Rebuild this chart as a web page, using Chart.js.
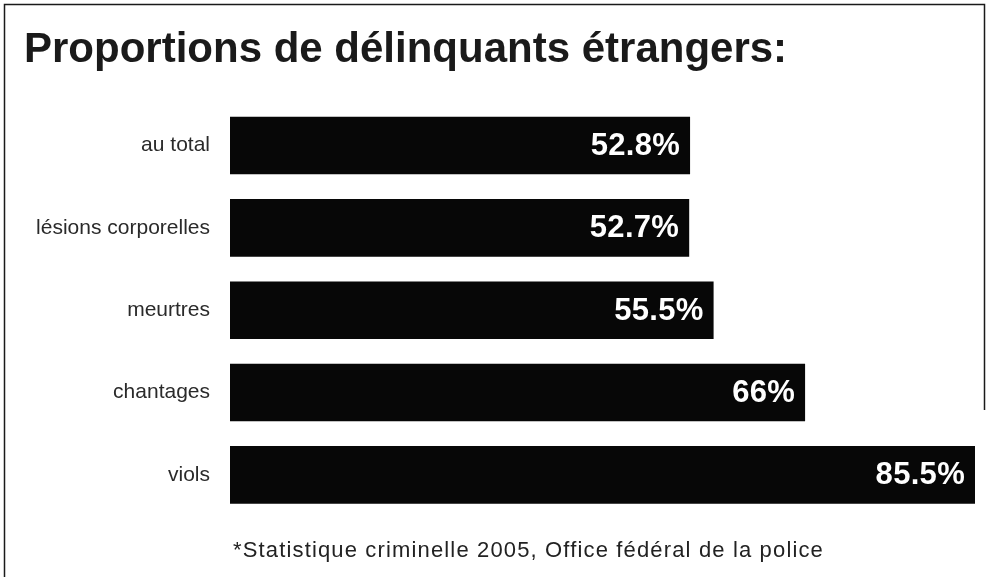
<!DOCTYPE html>
<html lang="fr">
<head>
    <meta charset="UTF-8">
    <title>Proportions de délinquants étrangers</title>
    <script src="https://cdn.jsdelivr.net/npm/chart.js@4.4.0/dist/chart.umd.min.js"></script>
    <style>
        html, body { margin: 0; padding: 0; background: #fff; }
        #wrap { position: relative; width: 988px; height: 577px; }
    </style>
</head>
<body>
<div id="wrap"><canvas id="myChart"></canvas></div>
<script>
    // values
    const categories = ["au total", "lésions corporelles", "meurtres", "chantages", "viols"];
    const shares = [52.8, 52.7, 55.5, 66, 85.5];
    const shareLabels = ["52.8%", "52.7%", "55.5%", "66%", "85.5%"];
    const titleText = "Proportions de délinquants étrangers:";
    const noteText = "*Statistique criminelle 2005, Office fédéral de la police";

    const fontFamily = '"Liberation Sans", Arial, Helvetica, sans-serif';

    // white percentages inside the end of each bar
    const valueLabels = {
        id: 'valueLabels',
        afterDatasetsDraw(chart) {
            const ctx = chart.ctx;
            const meta = chart.getDatasetMeta(0);
            ctx.save();
            ctx.fillStyle = '#ffffff';
            ctx.font = 'bold 31px ' + fontFamily;
            ctx.letterSpacing = '0.3px';
            ctx.textAlign = 'right';
            ctx.textBaseline = 'middle';
            meta.data.forEach((bar, i) => {
                ctx.fillText(shareLabels[i], bar.x - 10, bar.y + 1);
            });
            ctx.restore();
        }
    };

    // footnote + the scanned frame
    const extras = {
        id: 'extras',
        afterDraw(chart) {
            const ctx = chart.ctx;
            const area = chart.chartArea;
            ctx.save();
            ctx.fillStyle = '#222';
            ctx.font = '22px ' + fontFamily;
            ctx.letterSpacing = '1.15px';
            ctx.textAlign = 'left';
            ctx.textBaseline = 'alphabetic';
            ctx.fillText(noteText, area.left + 3, 557);

            ctx.strokeStyle = '#1a1a1a';
            ctx.lineWidth = 1.5;
            ctx.beginPath();
            ctx.moveTo(4.5, chart.height);
            ctx.lineTo(4.5, 4.5);
            ctx.lineTo(984.5, 4.5);
            ctx.lineTo(984.5, 410);
            ctx.stroke();
            ctx.restore();
        }
    };

    const ctx = document.getElementById('myChart').getContext('2d');
    const myChart = new Chart(ctx, {
        type: 'bar',
        data: {
            labels: categories,
            datasets: [{
                data: shares,
                backgroundColor: '#070707',
                borderWidth: 0,
                categoryPercentage: 0.7,
                barPercentage: 1.0
            }]
        },
        options: {
            indexAxis: 'y',
            responsive: true,
            maintainAspectRatio: false,
            animation: false,
            layout: {
                padding: { left: 24, right: 13, top: 0, bottom: 61 }
            },
            plugins: {
                legend: { display: false },
                tooltip: { enabled: false },
                title: {
                    display: true,
                    text: titleText,
                    align: 'start',
                    color: '#1a1a1a',
                    font: { family: fontFamily, size: 42, weight: 'bold' },
                    padding: { top: 25, bottom: 29 }
                }
            },
            scales: {
                x: {
                    display: false,
                    min: 0,
                    max: 85.5
                },
                y: {
                    grid: { display: false, drawTicks: false },
                    border: { display: false },
                    ticks: {
                        color: '#2a2a2a',
                        padding: 20,
                        font: { family: fontFamily, size: 21 }
                    },
                    afterFit(scale) {
                        scale.width = 206;
                    }
                }
            }
        },
        plugins: [valueLabels, extras]
    });
</script>
</body>
</html>
